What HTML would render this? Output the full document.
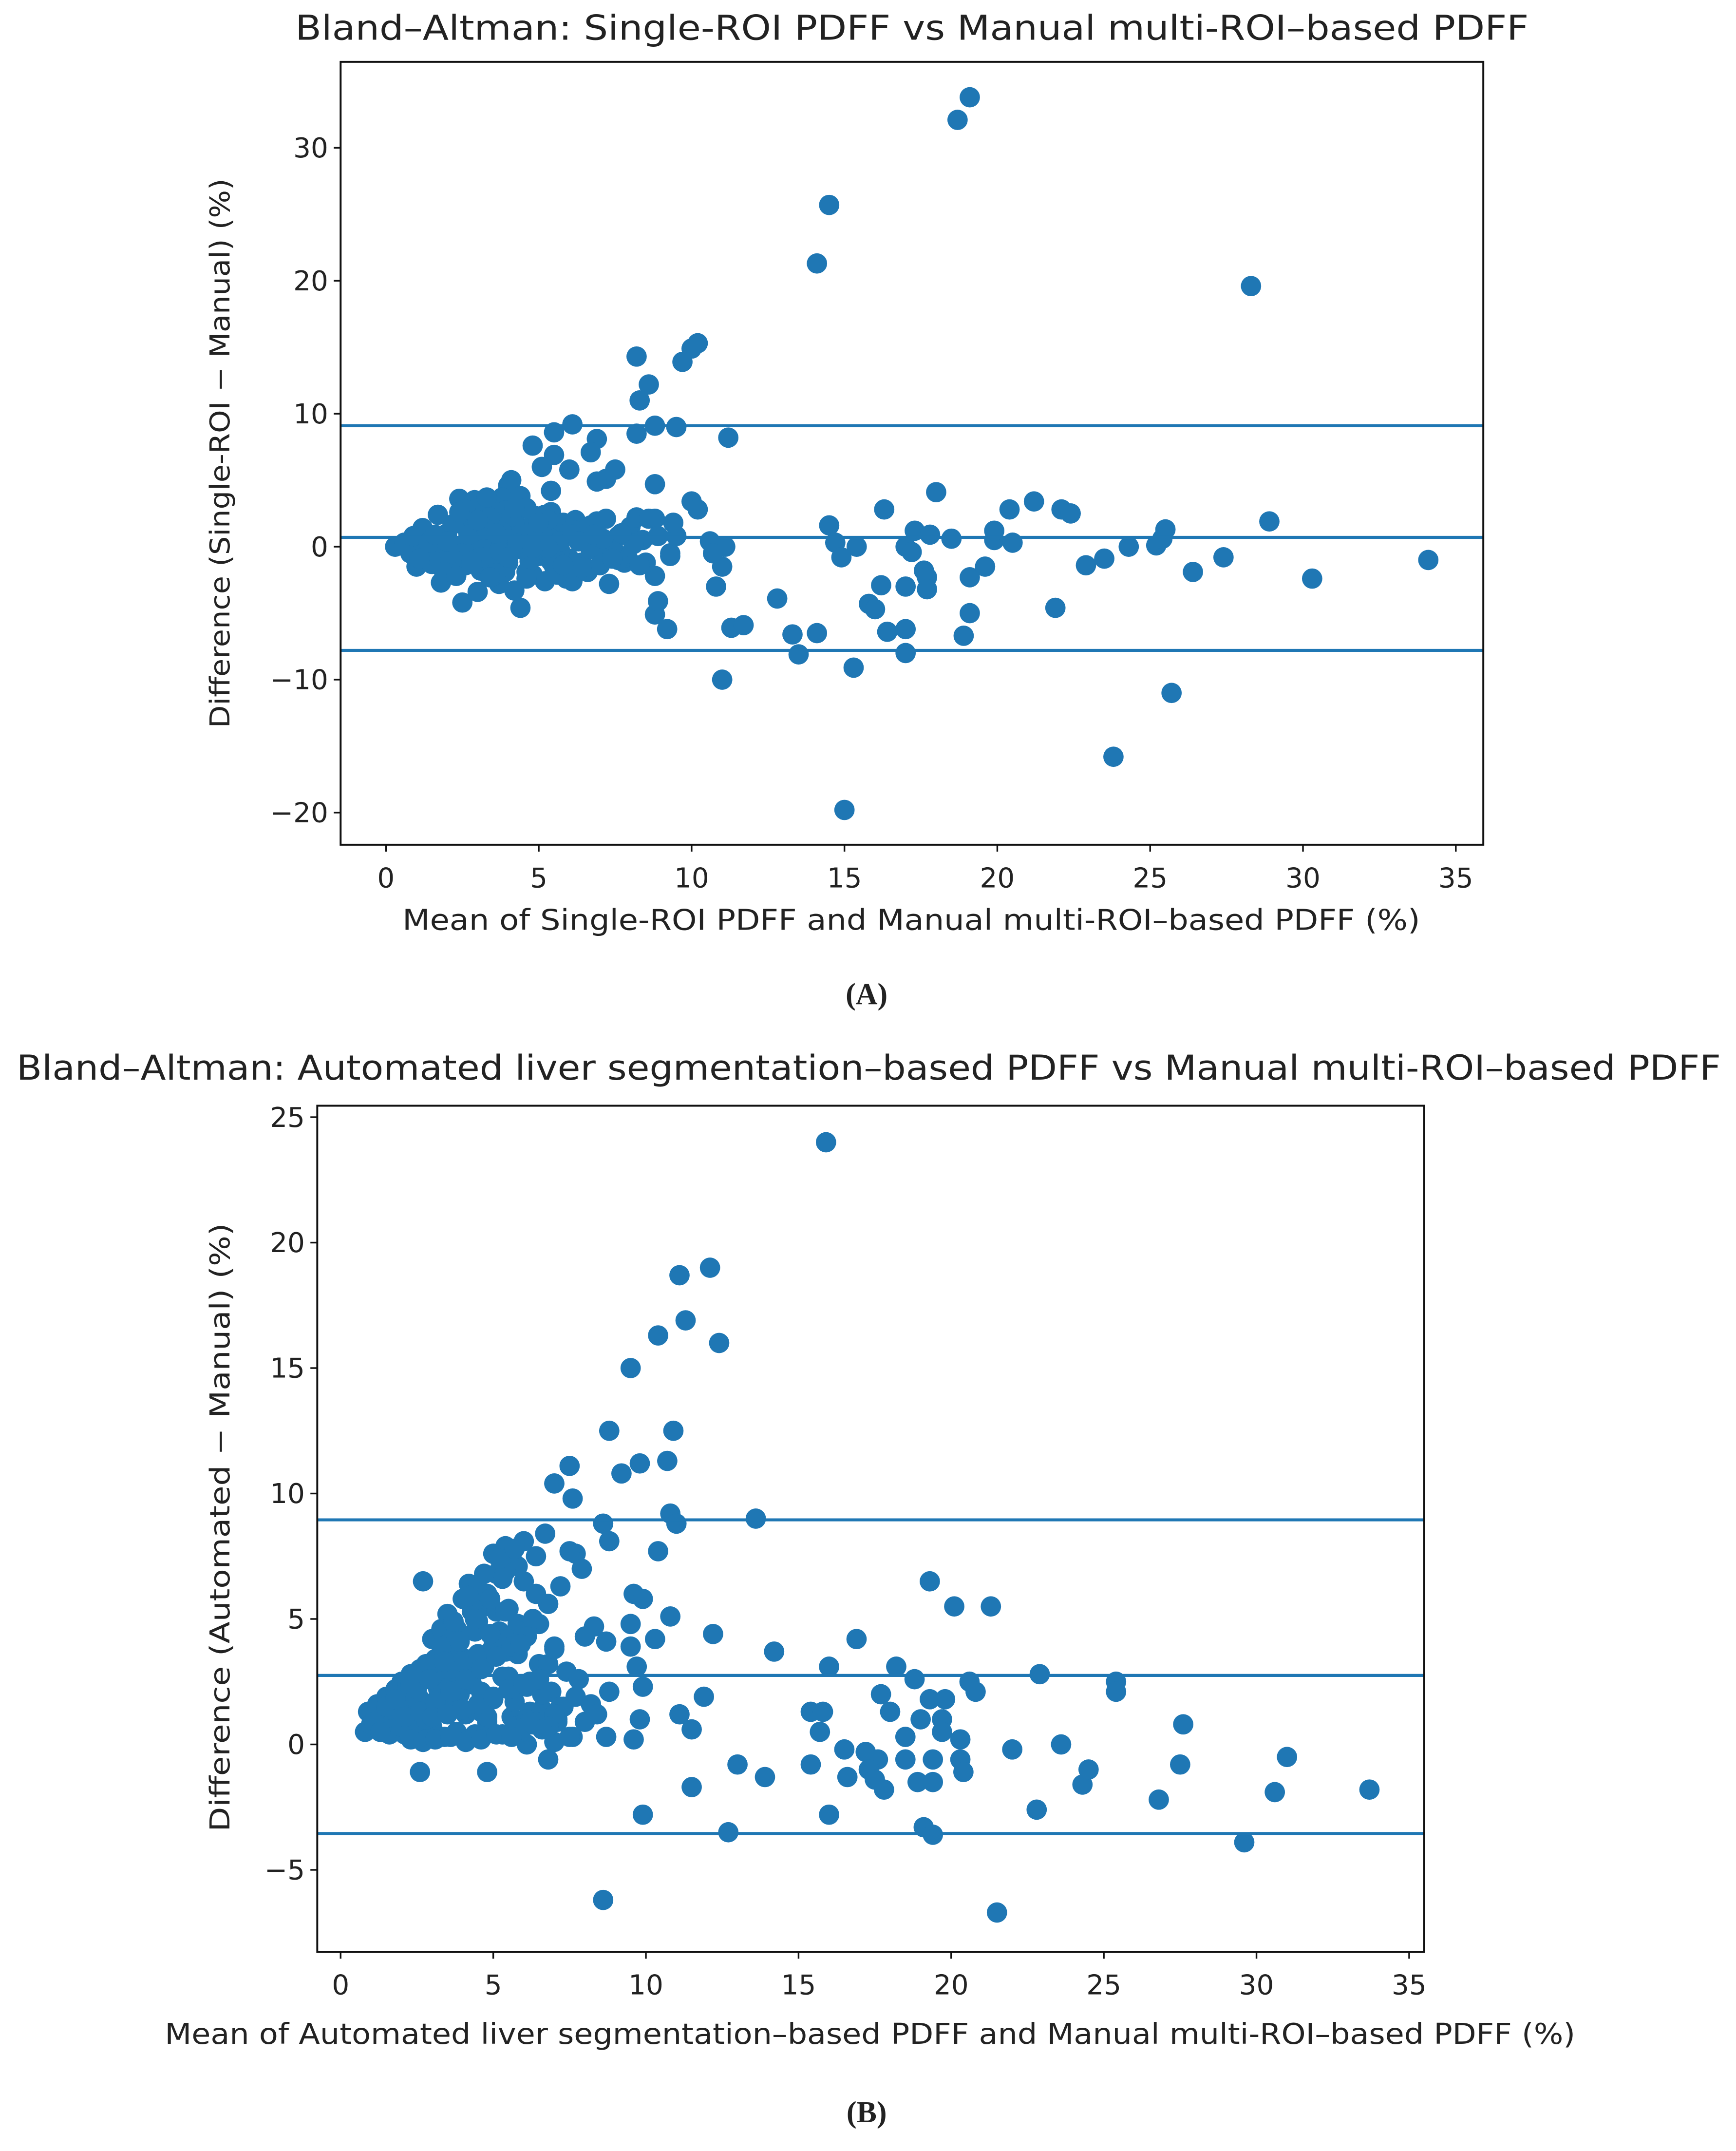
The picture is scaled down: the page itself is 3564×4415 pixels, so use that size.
<!DOCTYPE html>
<html><head><meta charset="utf-8"><style>
html,body{margin:0;padding:0;background:#fff;}
svg{display:block;}
text{font-family:"DejaVu Sans","Liberation Sans",sans-serif;fill:#222;}
</style></head><body>
<svg id="fig" width="3564" height="4415" viewBox="0 0 1264 1566" preserveAspectRatio="none" xmlns="http://www.w3.org/2000/svg">
<g id="chartA"></g>
<g id="chartB"></g>
<text x="631" y="731" text-anchor="middle" font-size="22" style="font-family:'Liberation Serif',serif;font-weight:bold">(A)</text>
<text x="631" y="1545" text-anchor="middle" font-size="22" style="font-family:'Liberation Serif',serif;font-weight:bold">(B)</text>
</svg>
<script>
// ---- Data chart A ----
const xTicksA=[0,5,10,15,20,25,30,35];
const yTicksA=[-20,-10,0,10,20,30];
const limitsA=[9.1,0.7,-7.8];
const meanA=[19.1,18.7,14.5,14.1,28.3,10.2,10,9.7,8.2,8.6,8.3,9.5,8.8,8.2,11.2,6.1,5.5,4.8,5.5,6.9,6.7,5.1,6,7.5,7.2,6.9,8.8,5.4,4.1,10,10.2,4,3.8,
18,16.3,14.5,14.7,15.4,14.9,17.3,17.8,17,17.2,17.6,17.7,17,17.7,16.2,15.8,16,12.8,13.3,14.1,13.5,16.4,17,17,15.3,18.9,19.1,19.1,19.6,18.5,19.9,19.9,20.5,20.4,21.2,22.1,22.4,21.9,22.9,23.5,24.3,25.2,25.5,25.4,26.4,27.4,28.9,30.3,34.1,25.7,23.8,15,11,11.3,11.7,10.8,11,10.6,11.1,10.7,9.2,8.8,8.9,8.8,9.3,9.5,9.4,8.8,9.3,
0.3,0.6,0.8,1,1,1.2,1.3,1.5,1.7,1.8,1.9,2,2.2,2.3,2.4,2.5,2.6,2.7,2.8,2.9,3,3.1,3.2,3.3,3.4,3.5,3.6,3.7,3.8,3.9,4,4.2,4.3,4.4,4.5,4.6,4.7,4.9,5,5.2,5.3,5.4,5.5,5.6,5.8,5.9,6,6.2,6.4,6.5,6.7,6.9,7,7.3,7.2,7.5,7.6,7.8,8,8.2,8.5,8.4,8.6,2.1,1.5,2.8,3.1,3.6,4.1,2.4,3,3.9,4.8,5.7,6.3,2.2,1.2,4.4,3.3,2.6,1.6,3.8,4.6,5.1,6.1,5.4,7.9,8.9,4.2,3.5,2.9,4.9,0.9,1.8,
2,2.5,3,3.5,4,4.5,5,5.5,6,6.5,7,1.4,2.2,3.2,4.2,5.2,6.2,7.2,2.7,3.7,4.7,5.7,6.7,2.9,3.4,4.3,5.3,6.6,7.4,
1.1,1.6,2.1,2.6,3.1,3.6,4.1,4.6,5.1,5.6,6.1,6.6,7.1,7.6,8.1,1.9,2.4,3.4,4.4,5.4,6.4,7.4,2.3,3.3,4.3,5.3,6.3,2.8,3.8,4.8,5.8,6.8,3.6,4.2,8.3,7.7,2.0,3.0,4.0,5.0];
const diffA=[33.8,32.1,25.7,21.3,19.6,15.3,14.9,13.9,14.3,12.2,11,9,9.1,8.5,8.2,9.2,8.6,7.6,6.9,8.1,7.1,6,5.8,5.8,5.1,4.9,4.7,4.2,5,3.4,2.8,4.6,3.7,
4.1,2.8,1.6,0.3,0,-0.8,1.2,0.9,0,-0.4,-1.8,-2.3,-3,-3.2,-2.9,-4.3,-4.7,-3.9,-6.6,-6.5,-8.1,-6.4,-6.2,-8,-9.1,-6.7,-5,-2.3,-1.5,0.6,0.5,1.2,0.3,2.8,3.4,2.8,2.5,-4.6,-1.4,-0.9,0,0.1,1.3,0.6,-1.9,-0.8,1.9,-2.4,-1,-11,-15.8,-19.8,-10,-6.1,-5.9,-3,-1.5,0.4,0,-0.5,-6.2,-5.1,-4.1,-2.2,-0.5,0.8,1.8,2.1,-0.7,
0,0.3,-0.5,0.8,-1.5,1.4,-0.3,0.6,2.4,-2.7,-1.2,1,0,-1.8,3.6,-4.2,1.5,-0.6,2.5,3.5,-3.4,-1.8,0.9,2.1,-0.4,3.1,1.6,-2.8,0.4,2.7,-1.2,1.9,3.3,-4.6,0.2,-1.9,1.1,2.3,-0.7,-2.6,1.3,2.6,-1.5,0.3,1.8,-2.4,-0.9,2,-1.2,0.6,-0.2,1.9,-1.4,-2.8,2.1,-0.4,0.8,-1.2,1.5,2.2,-1.2,0.5,2.1,-0.9,-1.3,0.5,2.9,-0.9,0.9,-0.2,1.5,-1.9,-2.1,-0.3,1,1.7,0.1,3.8,3.7,2.8,-0.7,1.8,2.9,1.9,-2.6,-1.1,-0.8,0.8,-3.3,-2.2,-1.1,0.6,0.8,0.3,
0.5,-0.5,1.2,0.2,-0.8,1.4,0.1,-0.6,1.1,-1.6,0.7,0.3,-0.9,-0.2,1.7,2.4,1.2,-0.2,0.9,-0.3,-1.1,0.4,1.6,-1.3,2.2,0.8,2,-1.7,-0.3,
-0.9,0.9,-0.6,-1.4,-0.8,-2.0,2.3,-2.4,0.7,-2.1,0.9,-1.9,0.6,-1.0,0.2,-1.9,2.6,-2.3,-0.2,-0.6,-1.6,-0.9,-2.2,1.3,0.2,-0.1,0.4,-1.1,1.1,-0.1,-1.4,0.9,1.0,2.9,-1.4,1.0,0.4,2.0,-0.8,1.8];
// ---- Data chart B ----
const xTicksB=[0,5,10,15,20,25,30,35];
const yTicksB=[-5,0,5,10,15,20,25];
const limitsB=[8.95,2.75,-3.55];
const meanB=[15.9,12.1,11.1,11.3,10.4,12.4,9.5,8.8,10.9,10.7,9.8,9.2,7.5,7,7.6,8.6,10.8,11,13.6,8.8,10.4,7.7,7.9,9.6,9.9,10.8,9.5,8.3,12.2,10.3,8.7,9.5,14.2,9.7,9.9,8.8,11.9,11.1,9.8,11.5,9.6,8.7,8,6.8,6.1,4.8,2.6,9.9,11.5,12.7,13,13.9,8.6,
19.3,20.1,21.3,16.9,16,18.2,18.8,20.6,20.8,17.7,19.3,19.8,15.4,15.8,18,19,19.7,15.7,18.5,19.7,20.3,16.5,17.2,17.6,18.5,19.4,20.3,15.4,16.6,17.3,17.5,17.8,18.9,19.4,20.4,16,19.1,19.4,22,22.9,23.6,22.8,24.3,24.5,25.4,25.4,26.8,27.6,27.5,29.6,30.6,31,33.7,21.5,
0.8,0.9,1,1.2,1.3,1.5,1.6,1.8,1.9,2,2.1,2.2,2.3,2.4,2.5,2.6,2.7,2.8,2.9,3,3,3.1,3.2,3.3,3.4,3.5,3.5,3.6,3.7,3.8,3.9,4,4,4.1,4.2,4.3,4.4,4.5,4.5,4.6,4.7,4.8,4.9,5,5,5.1,5.2,5.3,5.4,5.5,5.5,5.6,5.7,5.8,5.9,6,6,6.1,6.2,6.3,6.4,6.5,6.6,6.7,6.8,6.9,7,7.1,7.2,7.3,7.4,7.5,7.6,7.8,8,8.2,8.4,1.4,1.7,2.2,2.6,2.9,3.2,3.5,3.8,4.1,4.4,4.7,5.1,5.4,5.8,6.1,6.4,6.8,7.1,1.1,1.6,2,2.4,2.8,3.3,3.7,4.2,4.6,5.2,5.7,6.2,6.7,7.2,7.7,
3.4,3.9,4.3,4.8,5.3,5.7,6.2,6.6,7,2.3,2.7,3.1,3.6,4.1,4.6,5.1,5.6,6.1,
1.5,2.0,2.5,3.0,3.5,4.0,4.5,5.0,5.5,6.0,6.5,7.0,1.8,2.3,2.8,3.3,3.8,4.3,4.8,5.3,5.8,6.3,6.8,2.1,2.6,3.1,3.6,4.1,4.6,5.1,5.6,6.1,6.6,2.9,3.4,3.9,4.4,4.9,5.4,5.9,3.7,4.2,4.7,5.2,5.7,6.2,3.0,3.5,4.0,4.5,5.0,5.5,6.0,6.5,7.0,7.5,1.3,2.7,4.9,5.4,6.6,7.3];
const diffB=[24,19,18.7,16.9,16.3,16,15,12.5,12.5,11.3,11.2,10.8,11.1,10.4,9.8,8.8,9.2,8.8,9,8.1,7.7,7.6,7,6,5.8,5.1,4.8,4.7,4.4,4.2,4.1,3.9,3.7,3.1,2.3,2.1,1.9,1.2,1,0.6,0.2,0.3,0.9,-0.6,0,-1.1,-1.1,-2.8,-1.7,-3.5,-0.8,-1.3,-6.2,
6.5,5.5,5.5,4.2,3.1,3.1,2.6,2.5,2.1,2,1.8,1.8,1.3,1.3,1.3,1,1,0.5,0.3,0.5,0.2,-0.2,-0.3,-0.6,-0.6,-0.6,-0.6,-0.8,-1.3,-1,-1.4,-1.8,-1.5,-1.5,-1.1,-2.8,-3.3,-3.6,-0.2,2.8,0,-2.6,-1.6,-1,2.5,2.1,-2.2,0.8,-0.8,-3.9,-1.9,-0.5,-1.8,-6.7,
0.5,1.3,0.8,1.6,0.6,1.9,0.4,2.2,1,2.5,0.4,1.7,2.8,0.6,2.2,3,1.3,0.2,2.6,4.2,0.7,3.4,1.8,4.6,0.3,3.1,5.2,1.5,3.8,0.5,4.4,2.6,5.8,1.2,6.4,3.3,0.4,4.9,6.2,2.1,5.5,0.9,3.7,7.6,1.8,6.8,4.2,0.4,7.9,2.7,5.4,1.1,7.2,3.6,0.5,6.5,8.1,2.3,4.8,0.8,7.5,3.2,1.4,8.4,5.6,2.1,3.9,0.9,6.3,1.5,2.9,7.7,0.3,2.6,4.3,1.6,1.2,1.1,1.4,2.4,1.8,2.9,2.2,4,2.7,3.4,4.5,3.1,5.3,3.7,4.8,2.4,6,3.2,1,0.9,1.4,0.7,1.9,1,2.3,1.6,3.1,1.3,4.5,1.7,2.5,0.8,1.5,
1.9,1.4,2,2.4,1.1,2.7,0.7,1.3,0.9,0.1,0.2,0.1,0.2,0.3,0.1,0.2,0.4,0.3,
1.0,1.5,1.9,2.2,2.7,3.0,3.3,3.6,3.9,4.2,4.5,4.8,1.2,1.8,2.4,3.2,3.9,4.6,5.3,6.0,6.6,7.1,5.0,0.7,1.1,1.3,1.7,2.1,2.6,3.0,3.5,3.9,4.3,2.0,2.6,3.3,4.1,5.0,5.8,6.9,4.0,4.9,5.9,6.8,7.4,7.8,0.9,1.1,1.2,1.4,1.6,1.9,2.2,2.4,2.6,3.8,0.3,0.5,6.5,4.4,5.3,0.6];

const NS='http://www.w3.org/2000/svg';
const BLUE='#1f77b4';
function mk(tag,attrs,parent){const e=document.createElementNS(NS,tag);for(const k in attrs)e.setAttribute(k,attrs[k]);parent.appendChild(e);return e;}

function draw(g,cfg,means,diffs,xTicks,yTicks,limits,key){
  const sx=v=>cfg.x0+(v-0)*cfg.xs;
  const sy=v=>cfg.yref+(cfg.yrefVal-v)*cfg.ys;
  const b=cfg.box;
  const clipId='clip'+key;
  const cp=mk('clipPath',{id:clipId},g);
  mk('rect',{x:b[0],y:b[1],width:b[2]-b[0],height:b[3]-b[1]},cp);
  const pts=mk('g',{'clip-path':'url(#'+clipId+')'},g);
  
  
  for(let i=0;i<means.length;i++){
    const c=mk('circle',{cx:sx(means[i]),cy:sy(diffs[i]),r:7.4,fill:BLUE},pts);
    
    
  }
  const names=['upper-limit-line','mean-difference-line','lower-limit-line'];
  limits.forEach((v,i)=>{
    const l=mk('line',{x1:b[0],x2:b[2],y1:sy(v),y2:sy(v),stroke:BLUE,'stroke-width':2.2},g);
    
    
  });
  const fr=mk('rect',{x:b[0],y:b[1],width:b[2]-b[0],height:b[3]-b[1],fill:'none',stroke:'#111','stroke-width':1.4},g);
  
  
  xTicks.forEach(t=>{
    const x=sx(t);
    mk('line',{x1:x,x2:x,y1:b[3],y2:b[3]+5,stroke:'#111','stroke-width':1.2},g);
    const tx=mk('text',{x:x,y:b[3]+31,'text-anchor':'middle','font-size':20},g);
    tx.textContent=t;
    
    
  });
  yTicks.forEach(t=>{
    const y=sy(t);
    mk('line',{x1:b[0]-5,x2:b[0],y1:y,y2:y,stroke:'#111','stroke-width':1.2},g);
    const tx=mk('text',{x:b[0]-9,y:y+7,'text-anchor':'end','font-size':20},g);
    tx.textContent=t<0?'\u2212'+(-t):t;
    
    
  });
  const ti=mk('text',{x:cfg.title[1],y:cfg.title[2],'text-anchor':'start','font-size':25,textLength:cfg.title[3],lengthAdjust:'spacingAndGlyphs'},g);
  ti.textContent=cfg.title[0];
  
  
  const xl=mk('text',{x:cfg.xl[1],y:cfg.xl[2],'text-anchor':'start','font-size':21,textLength:cfg.xl[3],lengthAdjust:'spacingAndGlyphs'},g);
  xl.textContent=cfg.xl[0];
  
  
  const yl=mk('text',{x:0,y:0,'text-anchor':'middle','font-size':20,textLength:cfg.yl[3],lengthAdjust:'spacingAndGlyphs',transform:'translate('+cfg.yl[1]+','+cfg.yl[2]+') rotate(-90)'},g);
  yl.textContent=cfg.yl[0];
  
  
}

draw(document.getElementById('chartA'),{
  box:[248,45,1080,615],x0:281,xs:(1060-281)/35,yref:398,yrefVal:0,ys:(591-107)/50,
  title:['Bland\u2013Altman: Single-ROI PDFF vs Manual multi-ROI\u2013based PDFF',215,29,898],
  xl:['Mean of Single-ROI PDFF and Manual multi-ROI\u2013based PDFF (%)',293,677,741],
  yl:['Difference (Single-ROI \u2212 Manual) (%)',167,330,400]
},meanA,diffA,xTicksA,yTicksA,limitsA,'A');

draw(document.getElementById('chartB'),{
  box:[231,805,1037,1421],x0:248,xs:(1026-248)/35,yref:1270,yrefVal:0,ys:(1361-813)/30,
  title:['Bland\u2013Altman: Automated liver segmentation\u2013based PDFF vs Manual multi-ROI\u2013based PDFF',12,786,1241],
  xl:['Mean of Automated liver segmentation\u2013based PDFF and Manual multi-ROI\u2013based PDFF (%)',120,1488,1027],
  yl:['Difference (Automated \u2212 Manual) (%)',167,1112,443]
},meanB,diffB,xTicksB,yTicksB,limitsB,'B');
</script>
</body></html>
